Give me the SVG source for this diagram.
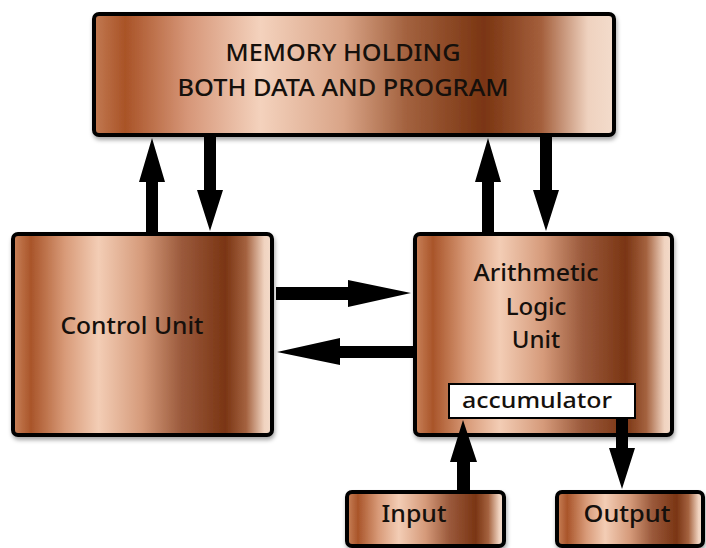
<svg xmlns="http://www.w3.org/2000/svg" width="706" height="548" viewBox="0 0 706 548">
<defs>
<linearGradient id="copper" x1="0" y1="0" x2="1" y2="0">
<stop offset="0" stop-color="#c9825a"/>
<stop offset="0.07" stop-color="#a9552a"/>
<stop offset="0.2" stop-color="#d89a78"/>
<stop offset="0.33" stop-color="#f3cdb5"/>
<stop offset="0.5" stop-color="#d59a7a"/>
<stop offset="0.65" stop-color="#9b5a3c"/>
<stop offset="0.82" stop-color="#7a3514"/>
<stop offset="0.9" stop-color="#a4623f"/>
<stop offset="0.97" stop-color="#f0d3c0"/>
<stop offset="1" stop-color="#f4dccb"/>
</linearGradient>
<linearGradient id="copperMem" x1="0" y1="0" x2="1" y2="0">
<stop offset="0" stop-color="#c27a52"/>
<stop offset="0.06" stop-color="#a95327"/>
<stop offset="0.18" stop-color="#d69678"/>
<stop offset="0.32" stop-color="#f4d2bd"/>
<stop offset="0.48" stop-color="#d9a487"/>
<stop offset="0.6" stop-color="#a3623f"/>
<stop offset="0.75" stop-color="#7a3512"/>
<stop offset="0.86" stop-color="#a45f3c"/>
<stop offset="0.95" stop-color="#efd2bf"/>
<stop offset="1" stop-color="#f3dccc"/>
</linearGradient>
<filter id="sh" x="-5%" y="-5%" width="110%" height="115%">
<feDropShadow dx="1" dy="3" stdDeviation="2" flood-color="#000" flood-opacity="0.35"/>
</filter>
</defs>
<style>
.box{stroke:#000;stroke-width:4;filter:url(#sh)}
.t{font-family:"Noto Sans","Open Sans","Liberation Sans",sans-serif;font-weight:500;fill:#15100c;text-anchor:middle;font-size:24px}
.arr{fill:#000}
</style>

<g id="memory">
<rect class="box" x="94" y="14" width="520" height="121" rx="5" fill="url(#copperMem)"/>
<text class="t" x="343" y="61" textLength="235" lengthAdjust="spacingAndGlyphs">MEMORY HOLDING</text>
<text class="t" x="343" y="96" textLength="331" lengthAdjust="spacingAndGlyphs">BOTH DATA AND PROGRAM</text>
</g>

<g id="control-unit">
<rect class="box" x="13" y="234" width="259" height="201" rx="5" fill="url(#copper)"/>
<text class="t" x="132" y="334" textLength="143" lengthAdjust="spacingAndGlyphs">Control Unit</text>
</g>

<g id="alu">
<rect class="box" x="415" y="234" width="257" height="201" rx="5" fill="url(#copper)"/>
<text class="t" x="536" y="281" textLength="125" lengthAdjust="spacingAndGlyphs">Arithmetic</text>
<text class="t" x="536" y="315">Logic</text>
<text class="t" x="536" y="348">Unit</text>
</g>

<g id="accumulator">
<rect x="449" y="384" width="186" height="34" fill="#fff" stroke="#000" stroke-width="2"/>
<text class="t" x="537" y="408" style="font-size:22px" textLength="150" lengthAdjust="spacingAndGlyphs">accumulator</text>
</g>

<g id="input">
<rect class="box" x="347" y="492" width="157" height="54" rx="5" fill="url(#copper)"/>
<text class="t" x="414" y="522" textLength="65" lengthAdjust="spacingAndGlyphs">Input</text>
</g>

<g id="output">
<rect class="box" x="557" y="492" width="146" height="54" rx="5" fill="url(#copper)"/>
<text class="t" x="627" y="522" textLength="87" lengthAdjust="spacingAndGlyphs">Output</text>
</g>

<g id="connectors">
<polygon class="arr" points="146,233 158,233 158,182 165,182 152,138 139,182 146,182"/>
<polygon class="arr" points="204,137 216,137 216,190 223,190 210,231 197,190 204,190"/>
<polygon class="arr" points="482,233 494,233 494,182 501,182 488,138 475,182 482,182"/>
<polygon class="arr" points="540,137 552,137 552,190 559,190 546,231 533,190 540,190"/>
<polygon class="arr" points="276,287 348,287 348,280 411,293 348,307 348,300 276,300"/>
<polygon class="arr" points="414,346 340,346 340,338 277,352 340,365 340,358 414,358"/>
<polygon class="arr" points="457,491 470,491 470,462 477,462 463,420 450,462 457,462"/>
<polygon class="arr" points="616,419 628,419 628,448 635,448 622,489 609,448 616,448"/>
</g>
</svg>
